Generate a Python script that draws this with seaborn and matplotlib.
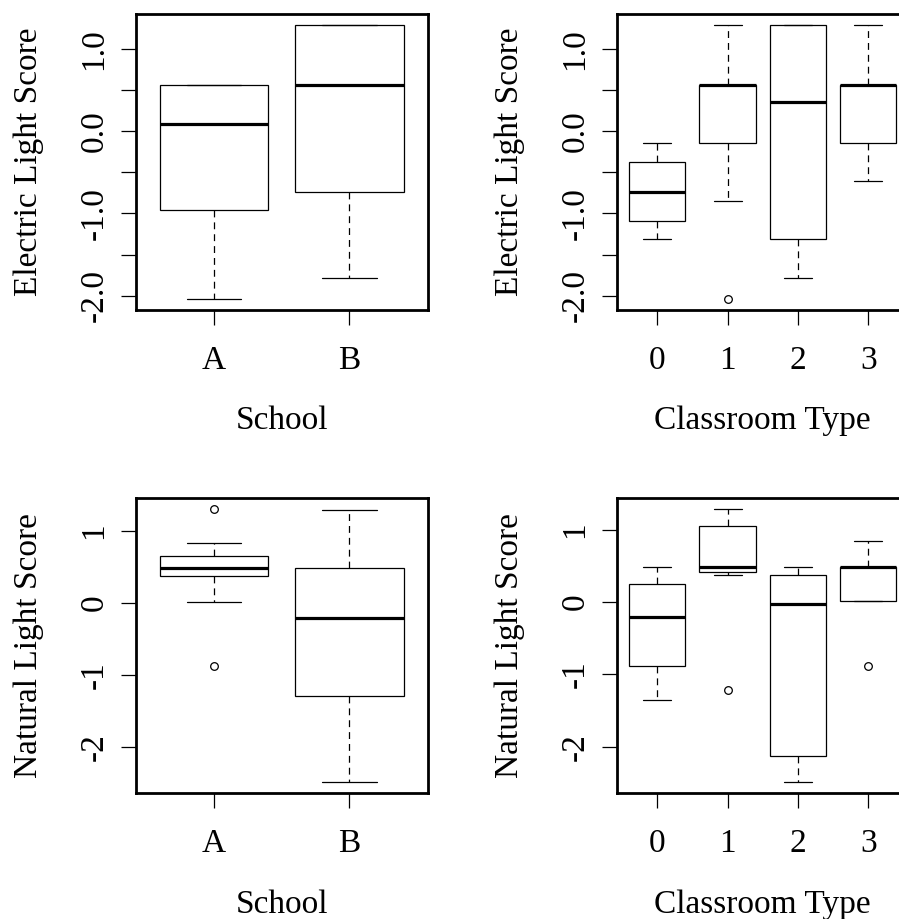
import numpy as np
import pandas as pd
import matplotlib
matplotlib.use("Agg")
import matplotlib.pyplot as plt
import seaborn as sns

sns.set_theme(style="white")
plt.rcParams["font.family"] = ["Liberation Serif", "DejaVu Serif"]
plt.rcParams["lines.scale_dashes"] = True

# ---- data -------------------------------------------------------------
schools = ["A", "B"]
room_types = ["0", "1", "2", "3"]

# Electric light score
elec_school_a = [-2.04, -0.96, 0.09, 0.565, 0.565]
elec_school_b = [-1.79, -0.74, 0.565, 1.29, 1.29]
elec_type0 = [-1.31, -1.09, -0.74, -0.38, -0.14]
elec_type1 = [-2.04, -0.85, -0.14, 0.21, 0.565, 0.565, 0.565, 0.93, 1.29]
elec_type2 = [-1.79, -1.31, 0.35, 1.29, 1.29]
elec_type3 = [-0.61, -0.14, 0.565, 0.565, 1.29]

# Natural light score
nat_school_a = [-0.88, 0.02, 0.38, 0.42, 0.49, 0.49, 0.65, 0.84, 1.31]
nat_school_b = [-2.49, -1.29, -0.21, 0.49, 1.29]
nat_type0 = [-1.35, -0.89, -0.21, 0.25, 0.49]
nat_type1 = [-1.21, 0.38, 0.42, 0.45, 0.49, 0.80, 1.05, 1.20, 1.29]
nat_type2 = [-2.49, -2.13, -0.02, 0.38, 0.49]
nat_type3 = [-0.88, 0.02, 0.49, 0.49, 0.84]

elec_ticks = [-2.0, -1.5, -1.0, -0.5, 0.0, 0.5, 1.0]
elec_tick_labels = ["-2.0", "", "-1.0", "", "0.0", "", "1.0"]
nat_ticks = [-2, -1, 0, 1]
nat_tick_labels = ["-2", "-1", "0", "1"]

# ---- layout -----------------------------------------------------------
W, H = 899, 919
fig = plt.figure(figsize=(W / 100, H / 100), dpi=100)
fig.patch.set_facecolor("white")

LW = 0.9


def make_axes(left_px, top_px, w_px=292.5, h_px=296.0):
    return fig.add_axes([left_px / W, 1 - (top_px + h_px) / H, w_px / W, h_px / H])


def panel(ax, groups, values, xlabel, ylabel, yticks, ylabels, xlab_y):
    df = pd.DataFrame({
        "group": np.repeat(groups, [len(v) for v in values]),
        "score": np.concatenate([np.asarray(v, float) for v in values]),
    })
    sns.boxplot(
        data=df, x="group", y="score", order=groups, ax=ax,
        color="white", linecolor="black", linewidth=LW, width=0.8,
        saturation=1, whis=1.5, fliersize=5.5,
        medianprops=dict(color="black", linewidth=2.3, solid_capstyle="butt"),
        whiskerprops=dict(color="black", linewidth=LW, linestyle=(0, (5.5, 4.0))),
        capprops=dict(color="black", linewidth=LW),
        boxprops=dict(edgecolor="black", facecolor="white", linewidth=LW),
        flierprops=dict(marker="o", markersize=5.5, markerfacecolor="none",
                        markeredgecolor="black", markeredgewidth=LW),
    )
    n = len(groups)
    ax.set_xlim(-0.58, n - 1 + 0.58)
    allv = np.concatenate(values)
    lo, hi = allv.min(), allv.max()
    pad = 0.04 * (hi - lo)
    ax.set_ylim(lo - pad, hi + pad)

    ax.set_yticks(yticks)
    ax.set_yticklabels(ylabels)
    for lab in ax.get_yticklabels():
        lab.set_rotation(90)
        lab.set_va("center")

    ax.tick_params(axis="both", direction="out", length=10.8, width=LW,
                   color="black", labelsize=24, labelcolor="black")
    ax.tick_params(axis="x", pad=14.5)
    ax.tick_params(axis="y", pad=8)
    ax.tick_params(left=True, bottom=True)

    for sp in ax.spines.values():
        sp.set_visible(True)
        sp.set_linewidth(2.0)
        sp.set_color("black")

    ax.set_xlabel(xlabel, fontsize=24, color="black")
    ax.set_ylabel(ylabel, fontsize=24, color="black")
    ax.xaxis.label.set_va("center")
    ax.yaxis.label.set_va("center")
    ax.xaxis.set_label_coords(0.5, xlab_y)
    ax.yaxis.set_label_coords(-0.3665, 0.5)
    ax.set_facecolor("white")


ax1 = make_axes(135.5, 14)
panel(ax1, schools, [elec_school_a, elec_school_b], "School",
      "Electric Light Score", elec_ticks, elec_tick_labels, -0.3726)

ax2 = make_axes(616.5, 14)
panel(ax2, room_types, [elec_type0, elec_type1, elec_type2, elec_type3],
      "Classroom Type", "Electric Light Score", elec_ticks, elec_tick_labels, -0.3726)

ax3 = make_axes(135.5, 497.7, h_px=295.6)
panel(ax3, schools, [nat_school_a, nat_school_b], "School",
      "Natural Light Score", nat_ticks, nat_tick_labels, -0.378)

ax4 = make_axes(616.5, 497.7, h_px=295.6)
panel(ax4, room_types, [nat_type0, nat_type1, nat_type2, nat_type3],
      "Classroom Type", "Natural Light Score", nat_ticks, nat_tick_labels, -0.378)

fig.savefig("out.png", dpi=100, facecolor="white")
